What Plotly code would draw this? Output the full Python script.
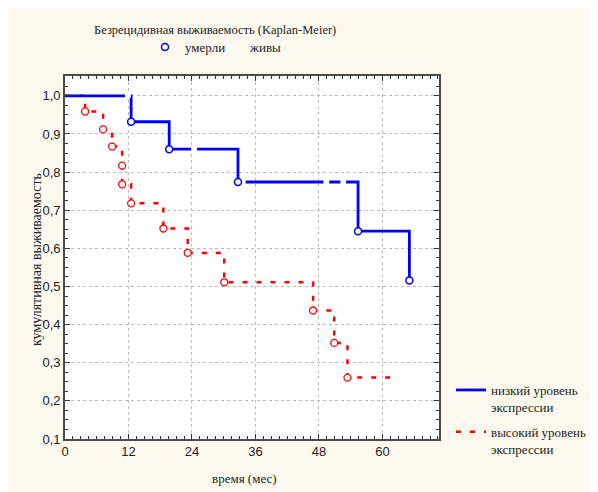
import plotly.graph_objects as go

# ---- data ----
low_times = [0, 12.5, 19.7, 32.7, 55.4, 65.1]
low_surv = [1.0, 0.932, 0.860, 0.774, 0.645, 0.516]
low_cens_times = [11.9, 24.4, 33.6, 49.4, 52.6]
low_cens_surv = [1.0, 0.860, 0.774, 0.774, 0.774]

high_times = [0, 3.8, 7.2, 8.9, 10.8, 10.8, 12.5, 18.6, 23.2, 30.1, 46.9, 50.9, 53.4]
high_surv = [1.0, 0.959, 0.912, 0.867, 0.817, 0.768, 0.718, 0.652, 0.588, 0.511, 0.437, 0.352, 0.261]
high_end_time = 62.7

x_ticks = [0, 12, 24, 36, 48, 60]
y_ticks = [0.1, 0.2, 0.3, 0.4, 0.5, 0.6, 0.7, 0.8, 0.9, 1.0]

title_text = "Безрецидивная выживаемость (Kaplan-Meier)"
x_title = "время (мес)"
y_title = "кумулятивная выживаемость"
name_low = "низкий уровень<br>экспрессии"
name_high = "высокий уровень<br>экспрессии"
name_dead = "умерли"
name_alive = "живы"

BLUE = "#0000ff"
RED = "#ff0000"
CREAM = "#fdf9ee"
SERIF = "Liberation Serif"
SANS = "Liberation Sans"

fig = go.Figure()

# high expression (red dashed step line)
fig.add_trace(go.Scatter(
    x=high_times + [high_end_time], y=high_surv + [high_surv[-1]],
    mode="lines", line=dict(color=RED, width=2.5, dash="5px,9px", shape="hv"),
    name=name_high, legend="legend2", legendgroup="high", legendrank=2, hoverinfo="skip"))

# low expression (blue solid step line)
fig.add_trace(go.Scatter(
    x=low_times, y=low_surv,
    mode="lines", line=dict(color=BLUE, width=2.8, shape="hv"),
    name=name_low, legend="legend2", legendgroup="low", legendrank=1, hoverinfo="skip"))

# censored (alive) markers - white
fig.add_trace(go.Scatter(
    x=low_cens_times, y=low_cens_surv, mode="markers",
    marker=dict(symbol="circle", size=6, color="white", line=dict(width=0)),
    name=name_alive, legend="legend3", showlegend=True))

# death markers
fig.add_trace(go.Scatter(
    x=high_times[1:], y=high_surv[1:], mode="markers",
    marker=dict(symbol="circle", size=7, color="white", line=dict(color=RED, width=1.3)),
    showlegend=False))
fig.add_trace(go.Scatter(
    x=low_times[1:], y=low_surv[1:], mode="markers",
    marker=dict(symbol="circle", size=7, color="white", line=dict(color=BLUE, width=1.5)),
    name=name_dead, legend="legend", showlegend=True))

# page has an 8px body margin; figure pixels = page pixels - 8
OFF = 8
W, H = 598 - OFF, 492 - OFF
PL, PR, PT, PB = 65, 439, 76, 439  # plot area in page pixels
L, T = PL - OFF, PT - OFF
pw, ph = PR - PL, PB - PT
R = W - L - pw
B = H - T - ph

def px(xp):
    return (xp - PL) / pw

def py(yp):
    return (PB - yp) / ph

axis_common = dict(
    showline=True, linecolor="#4a4a4a", linewidth=1.6, mirror="allticks",
    ticks="inside", ticklen=5, tickcolor="#333", tickwidth=1,
    showgrid=True, gridcolor="#bdbdbd", griddash="dot", gridwidth=1,
    zeroline=False, tickfont=dict(family=SANS, size=13, color="#222"),
)

fig.update_xaxes(
    range=[0, 70.7], tickmode="array", tickvals=x_ticks, ticktext=[str(v) for v in x_ticks],
    minor=dict(dtick=1.5, ticks="inside", ticklen=3, tickcolor="#333", showgrid=False),
    **axis_common)
fig.update_yaxes(
    range=[0.1, 1.052], tickmode="array", tickvals=y_ticks, tickformat=".1f",
    minor=dict(dtick=0.025, tick0=0.1, ticks="inside", ticklen=3, tickcolor="#333", showgrid=False),
    **axis_common)

legend_top = dict(
    orientation="h", xanchor="left", y=py(47), yanchor="middle",
    font=dict(family=SERIF, size=13, color="#222"), bgcolor="rgba(0,0,0,0)",
    itemwidth=30)

fig.update_layout(
    width=W, height=H, autosize=False,
    margin=dict(l=L, r=R, t=T, b=B, pad=0, autoexpand=False),
    paper_bgcolor=CREAM, plot_bgcolor="white",
    separators=", ",
    legend=dict(x=px(145), **legend_top),
    legend3=dict(x=px(210), **legend_top),
    legend2=dict(
        orientation="v", x=px(451), xanchor="left", y=py(375), yanchor="top",
        font=dict(family=SERIF, size=13, color="#222"), bgcolor="rgba(0,0,0,0)",
        valign="top", itemwidth=30, traceorder="grouped", tracegroupgap=5),
    annotations=[
        dict(text=title_text, xref="paper", yref="paper", x=px(215), y=py(30),
             showarrow=False, xanchor="center", yanchor="middle",
             font=dict(family=SERIF, size=12.5, color="#222")),
        dict(text=x_title, xref="paper", yref="paper", x=px(244), y=py(478),
             showarrow=False, xanchor="center", yanchor="middle",
             font=dict(family=SERIF, size=13, color="#222")),
        dict(text=y_title, xref="paper", yref="paper", x=px(36), y=py(260),
             showarrow=False, xanchor="center", yanchor="middle", textangle=-90,
             font=dict(family=SERIF, size=14, color="#222")),
    ],
    showlegend=True,
)

fig.write_html("out.html")
